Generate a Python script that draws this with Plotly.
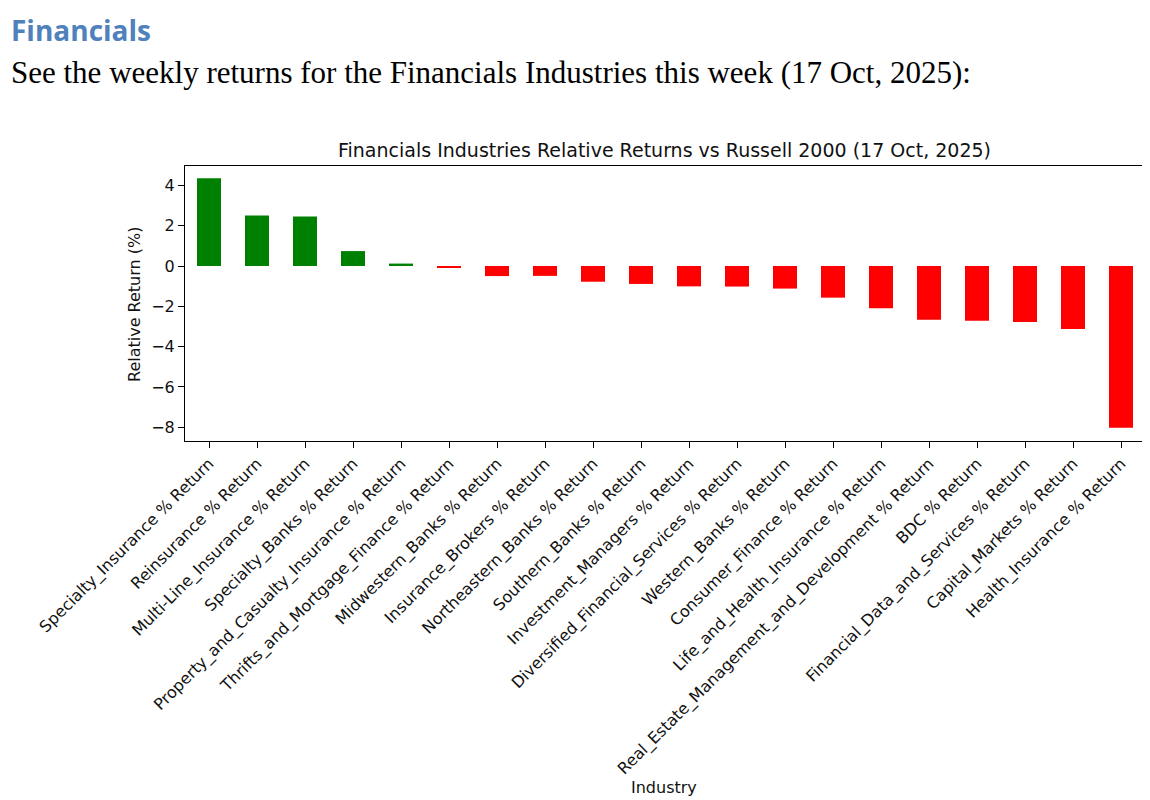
import plotly.graph_objects as go

industries = [
    "Specialty_Insurance % Return",
    "Reinsurance % Return",
    "Multi-Line_Insurance % Return",
    "Specialty_Banks % Return",
    "Property_and_Casualty_Insurance % Return",
    "Thrifts_and_Mortgage_Finance % Return",
    "Midwestern_Banks % Return",
    "Insurance_Brokers % Return",
    "Northeastern_Banks % Return",
    "Southern_Banks % Return",
    "Investment_Managers % Return",
    "Diversified_Financial_Services % Return",
    "Western_Banks % Return",
    "Consumer_Finance % Return",
    "Life_and_Health_Insurance % Return",
    "Real_Estate_Management_and_Development % Return",
    "BDC % Return",
    "Financial_Data_and_Services % Return",
    "Capital_Markets % Return",
    "Health_Insurance % Return",
]
returns = [4.35, 2.51, 2.46, 0.74, 0.12, -0.08, -0.50, -0.49, -0.78, -0.89,
           -1.01, -1.02, -1.12, -1.57, -2.10, -2.66, -2.71, -2.78, -3.13, -8.02]
y_ticks = [4, 2, 0, -2, -4, -6, -8]

colors = ["#008000" if v >= 0 else "#ff0000" for v in returns]

OFF = 8  # page body margin
W, H = 1150 - OFF, 800 - OFF
L, R, T, B = 185 - OFF, 1145 - OFF, 166 - OFF, 441 - OFF  # plot area in figure pixels

def px(x):
    return (x - OFF - L) / (R - L)

def py(y):
    return (B - (y - OFF)) / (B - T)

fig = go.Figure(go.Bar(
    x=list(range(len(industries))), y=returns, width=0.5,
    marker=dict(color=colors, line=dict(width=0)),
))

font_mpl = "DejaVu Sans"
fig.update_layout(
    width=W, height=H,
    margin=dict(l=L, r=W - R, t=T, b=H - B, pad=0),
    paper_bgcolor="white", plot_bgcolor="white",
    showlegend=False,
    font=dict(family=font_mpl, size=16, color="black"),
    xaxis=dict(
        range=[-0.5, len(industries) - 0.5],
        tickmode="array", tickvals=list(range(len(industries))), ticktext=industries,
        tickangle=-45, ticks="outside", ticklen=6, tickwidth=1, tickcolor="black",
        showline=True, linecolor="black", linewidth=1, mirror=True,
        showgrid=False, zeroline=False, automargin=False,
        tickfont=dict(family=font_mpl, size=16, color="#111"),
    ),
    yaxis=dict(
        range=[-8.68, 4.96],
        tickmode="array", tickvals=y_ticks,
        ticktext=[("\u2212" + str(-v)) if v < 0 else str(v) for v in y_ticks],
        ticks="outside", ticklen=6, tickwidth=1, tickcolor="black",
        showline=True, linecolor="black", linewidth=1, mirror=True,
        showgrid=False, zeroline=False, automargin=False,
        tickfont=dict(family=font_mpl, size=16, color="#111"),
    ),
    annotations=[
        dict(text="<b>Financials</b>", x=px(9), y=py(30), xref="paper", yref="paper",
             xanchor="left", yanchor="middle", showarrow=False,
             font=dict(family="Open Sans", size=28, color="#4f81bd")),
        dict(text="See the weekly returns for the Financials Industries this week (17 Oct, 2025):",
             x=px(9), y=py(72), xref="paper", yref="paper",
             xanchor="left", yanchor="middle", showarrow=False,
             font=dict(family="Liberation Serif", size=31, color="black")),
        dict(text="Financials Industries Relative Returns vs Russell 2000 (17 Oct, 2025)",
             x=px(664), y=py(150), xref="paper", yref="paper",
             xanchor="center", yanchor="middle", showarrow=False,
             font=dict(family=font_mpl, size=19, color="#111")),
        dict(text="Relative Return (%)", x=px(134), y=py(305), xref="paper", yref="paper",
             xanchor="center", yanchor="middle", showarrow=False, textangle=-90,
             font=dict(family=font_mpl, size=16, color="#111")),
        dict(text="Industry", x=px(664), y=py(787), xref="paper", yref="paper",
             xanchor="center", yanchor="middle", showarrow=False,
             font=dict(family=font_mpl, size=16, color="#111")),
    ],
)

fig.write_html("out.html")
